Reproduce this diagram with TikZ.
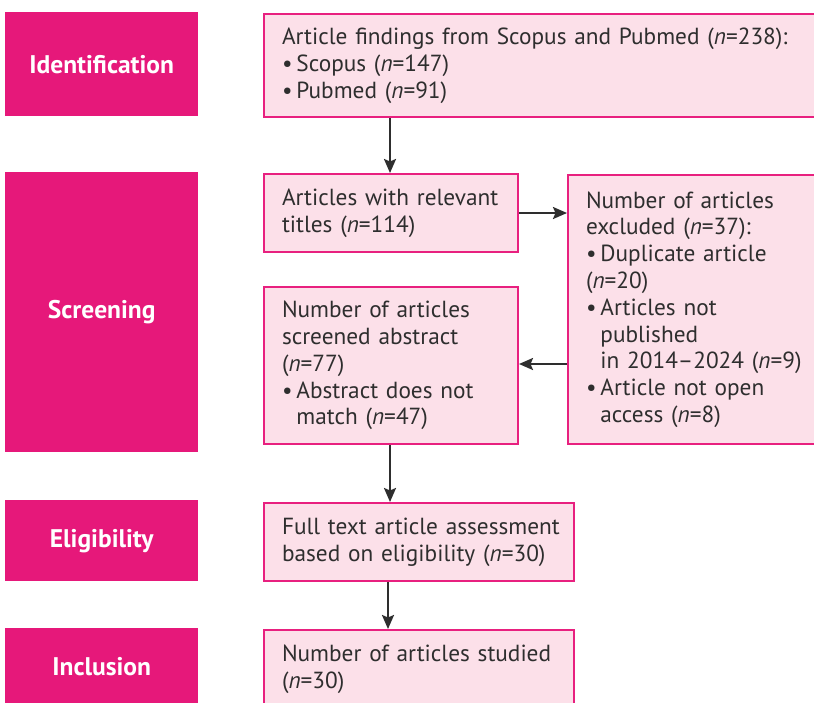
\documentclass[tikz,border=0pt]{standalone}
\usepackage{fontspec}
\setmainfont{PT Sans}
\usetikzlibrary{arrows.meta}
\definecolor{magbar}{HTML}{E6187A}
\definecolor{boxfill}{HTML}{FCE0E9}
\definecolor{boxline}{HTML}{E8207F}
\definecolor{txt}{HTML}{2E2E2E}
\definecolor{arr}{HTML}{2E2E2E}
\tikzset{
  stagebar/.style={fill=magbar, draw=none, text=white, font=\fontsize{25.5}{28}\selectfont\bfseries, anchor=north west, inner sep=0pt},
  flowbox/.style={fill=boxfill, draw=boxline, line width=2pt, text=txt, anchor=north west, inner sep=0pt, align=left,
     font=\fontsize{23.3}{26.8}\selectfont},
  flowarrow/.style={draw=arr, line width=2.2pt, -{Stealth[length=14pt,width=12pt,inset=2.5pt]}}
}
\newcommand{\nn}{\textit{n}}
\newcommand{\bul}{•\,}
\newcommand{\ind}{\phantom{•\,}}
\begin{document}
\begin{tikzpicture}[x=1pt,y=-1pt]
\useasboundingbox (0,0) rectangle (814,702);
\fill[white] (0,0) rectangle (814,702);
% stage bars
\node[stagebar, minimum width=193pt, minimum height=104pt] (sid) at (5,12) {Identification};
\node[stagebar, minimum width=193pt, minimum height=280pt] (ssc) at (5,172) {Screening};
\node[stagebar, minimum width=193pt, minimum height=81pt] (sel) at (5,500) {Eligibility};
\node[stagebar, minimum width=193pt, minimum height=76pt] (sin) at (5,628) {Inclusion};
% boxes
\node[flowbox, minimum width=560pt, minimum height=103pt, text width=560pt] (b1) at (263,13)
  {\hspace*{18pt}Article findings from Scopus and Pubmed (\nn=238):\\
   \hspace*{18pt}\bul Scopus (\nn=147)\\
   \hspace*{18pt}\bul Pubmed (\nn=91)};
\node[flowbox, minimum width=254pt, minimum height=78pt, text width=254pt] (b2) at (263,173)
  {\hspace*{18pt}Articles with relevant\\
   \hspace*{18pt}titles (\nn=114)};
\node[flowbox, minimum width=254pt, minimum height=157pt, text width=254pt] (b3) at (263,286)
  {\hspace*{18pt}Number of articles\\
   \hspace*{18pt}screened abstract\\
   \hspace*{18pt}(\nn=77)\\
   \hspace*{18pt}\bul Abstract does not\\
   \hspace*{18pt}\ind match (\nn=47)};
\node[flowbox, minimum width=260pt, minimum height=269pt, text width=260pt] (bx) at (567,174)
  {\hspace*{18pt}Number of articles\\
   \hspace*{18pt}excluded (\nn=37):\\
   \hspace*{18pt}\bul Duplicate article\\
   \hspace*{18pt}(\nn=20)\\
   \hspace*{18pt}\bul Articles not\\
   \hspace*{18pt}\ind published\\
   \hspace*{18pt}\ind in 2014–2024 (\nn=9)\\
   \hspace*{18pt}\bul Article not open\\
   \hspace*{18pt}\ind access (\nn=8)};
\node[flowbox, minimum width=310pt, minimum height=78pt, text width=310pt] (b4) at (263,502)
  {\hspace*{18pt}Full text article assessment\\
   \hspace*{18pt}based on eligibility (\nn=30)};
\node[flowbox, minimum width=310pt, minimum height=78pt, text width=310pt] (b5) at (263,629)
  {\hspace*{18pt}Number of articles studied\\
   \hspace*{18pt}(\nn=30)};
% arrows
\coordinate (a1s) at (390,116);
\draw[flowarrow] (b1.south -| a1s) -- (b2.north -| a1s);
\coordinate (a2) at (0,213);
\draw[flowarrow] (b2.east |- a2) -- (bx.west |- a2);
\coordinate (a3) at (0,364);
\draw[flowarrow] (bx.west |- a3) -- (b3.east |- a3);
\coordinate (a4) at (390,0);
\draw[flowarrow] (b3.south -| a4) -- (b4.north -| a4);
\coordinate (a5) at (388,0);
\draw[flowarrow] (b4.south -| a5) -- (b5.north -| a5);
\end{tikzpicture}
\end{document}
